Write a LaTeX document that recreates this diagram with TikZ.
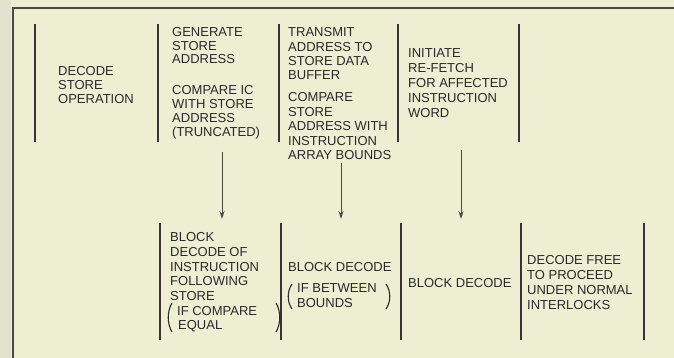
\documentclass[tikz,border=0pt]{standalone}
\usepackage{fontspec}
\setmainfont{Liberation Sans}
\usetikzlibrary{arrows.meta}
\definecolor{paper}{HTML}{EEEED3}
\definecolor{edge}{HTML}{E2E2CD}
\definecolor{ink}{HTML}{2B282D}
\definecolor{barc}{HTML}{3A3238}
\tikzset{
  txt/.style={anchor=north west, inner sep=0pt, align=left, text=ink,
    font={\fontsize{13}{14.4}\selectfont}},
  bar/.style={draw=barc, line width=2pt},
  frame/.style={draw=barc!90, line width=1.5pt},
  arr/.style={draw=ink!85, line width=0.9pt, -{Stealth[length=8pt,width=5pt]}},
  paren/.style={draw=ink, line width=1.1pt}
}
\begin{document}
\begin{tikzpicture}[x=1pt,y=-1pt]
\useasboundingbox (0,0) rectangle (674,358);
\fill[paper] (0,0) rectangle (674,358);
\fill[edge] (0,0) rectangle (11,358);
% frame
\coordinate (ftl) at (13,8);
\coordinate (ftr) at (674,8);
\coordinate (fbl) at (13,358);
\draw[frame] (ftr) -- (ftl) -- (fbl);

% top row bars
\foreach \n/\x in {t1/35,t2/158,t3/279,t4/398,t5/519}{
  \coordinate (\n a) at (\x,24);
  \coordinate (\n b) at (\x,142);
  \draw[bar] (\n a) -- (\n b);
}
% bottom row bars
\foreach \n/\x in {u1/160,u2/281,u3/401,u4/521,u5/644}{
  \coordinate (\n a) at (\x,223);
  \coordinate (\n b) at (\x,340);
  \draw[bar] (\n a) -- (\n b);
}

% top row texts
\node[txt, font={\fontsize{13}{14}\selectfont}] (dso) at (58,66.5) {DECODE\\STORE\\OPERATION};
\node[txt, font={\fontsize{13}{13.6}\selectfont}] (gen) at (172,27.2) {GENERATE\\STORE\\ADDRESS};
\node[txt, font={\fontsize{13}{13.9}\selectfont}] (cmp) at (172,85.4) {COMPARE IC\\WITH STORE\\ADDRESS\\(TRUNCATED)};
\node[txt, font={\fontsize{13}{14.4}\selectfont}] (tx) at (288,27.4) {TRANSMIT\\ADDRESS TO\\STORE DATA\\BUFFER};
\node[txt, font={\fontsize{13}{14.5}\selectfont}] (cmpb) at (288,92.4) {COMPARE\\STORE\\ADDRESS WITH\\INSTRUCTION\\ARRAY BOUNDS};
\node[txt, font={\fontsize{13}{14.9}\selectfont}] (init) at (408,48.4) {INITIATE\\RE-FETCH\\FOR AFFECTED\\INSTRUCTION\\WORD};

% bottom row texts
\node[txt, font={\fontsize{13}{14.7}\selectfont}] (b1) at (170,232.4) {BLOCK\\DECODE OF\\INSTRUCTION\\FOLLOWING\\STORE\\\hspace*{7pt}IF COMPARE\\\hspace*{8pt}EQUAL};
\node[txt] (b2) at (288,262.4) {BLOCK DECODE};
\node[txt, font={\fontsize{13}{15}\selectfont}] (b2c) at (297,283.4) {IF BETWEEN\\BOUNDS};
\node[txt] (b3) at (408,278.4) {BLOCK DECODE};
\node[txt, font={\fontsize{13}{15}\selectfont}] (b4) at (527,255.4) {DECODE FREE\\TO PROCEED\\UNDER NORMAL\\INTERLOCKS};

% parentheses
\draw[paren] (172,303) .. controls (167,311) and (167,324) .. (172,332);
\draw[paren] (276,303) .. controls (281,311) and (281,324) .. (276,332);
\draw[paren] (292,284) .. controls (287,291) and (287,302) .. (292,309);
\draw[paren] (386,284) .. controls (391,291) and (391,302) .. (386,309);

% arrows
\coordinate (a1s) at (222,152); \coordinate (a1e) at (222,219);
\coordinate (a2s) at (341,163); \coordinate (a2e) at (341,219);
\coordinate (a3s) at (461,150); \coordinate (a3e) at (461,219);
\draw[arr] (a1s) -- (a1e);
\draw[arr] (a2s) -- (a2e);
\draw[arr] (a3s) -- (a3e);
\end{tikzpicture}
\end{document}
